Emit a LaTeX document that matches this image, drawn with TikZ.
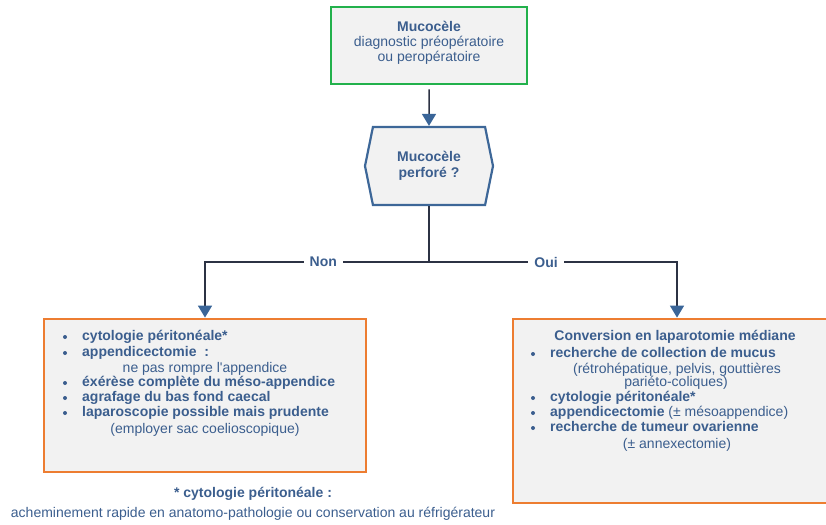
\documentclass[tikz,border=0pt]{standalone}
\usepackage{fontspec}
\setmainfont{Liberation Sans}[Ligatures=TeXOff]
\usetikzlibrary{arrows.meta,shapes.symbols,positioning}
\definecolor{txtblue}{HTML}{3B5E8E}
\definecolor{hexblue}{HTML}{3D6798}
\definecolor{tipblue}{HTML}{3A6598}
\definecolor{linedark}{HTML}{2C3244}
\definecolor{boxgreen}{HTML}{22B14C}
\definecolor{boxorange}{HTML}{ED7D31}
\definecolor{panelgray}{HTML}{F2F2F2}
\begin{document}
\begin{tikzpicture}[x=1pt,y=-1pt,
    every node/.style={font=\fontsize{14}{15}\selectfont, text=txtblue},
    panel/.style={draw=#1, line width=2.8pt, fill=panelgray},
    item/.style={anchor=west, inner sep=0pt, text height=10pt, text depth=3pt},
    note/.style={inner sep=0pt, text height=10pt, text depth=3pt},
    dot/.style={circle, fill=txtblue, inner sep=0pt, minimum size=4pt},
    link/.style={draw=linedark, line width=1.5pt},
    tip/.style={-{Triangle[width=14pt,length=12pt,color=tipblue]}},
    answer/.style={fill=white, inner xsep=6pt, font=\fontsize{14}{15}\selectfont\bfseries}]
  \useasboundingbox (0,0) rectangle (826,524);
  \clip (0,0) rectangle (826,524);

  % question boxes
  \node[panel=boxgreen, minimum width=196pt, minimum height=77pt] (diag) at (429,45.5) {};
  \node[inner sep=0pt, align=center] (diagtxt) at (429,43) {\textbf{Mucocèle}\\diagnostic préopératoire\\ou peropératoire};
  \node[draw=hexblue, line width=2.2pt, fill=panelgray, signal, signal to=west and east,
    signal pointer angle=157, minimum width=128pt, minimum height=78pt, align=center,
    font=\fontsize{14}{16}\selectfont\bfseries]
    (perf) at (429,166) {Mucocèle\\perforé ?};

  % answer boxes
  \node[panel=boxorange, minimum width=322pt, minimum height=153pt] (non) at (205,395.5) {};
  \node[panel=boxorange, minimum width=324pt, minimum height=184pt] (oui) at (675,411) {};

  % non
  \node[dot] (nb1) at (65,337) {};
  \node[item] (n1) at (82,337) {\textbf{cytologie péritonéale*}};
  \node[dot] (nb2) at (65,353) {};
  \node[item] (n2) at (82,353) {\textbf{appendicectomie\ \ :}};
  \node[note] (n2b) at (205,369) {ne pas rompre l'appendice};
  \node[dot] (nb3) at (65,383) {};
  \node[item] (n3) at (82,383) {\textbf{éxérèse complète du méso-appendice}};
  \node[dot] (nb4) at (65,398) {};
  \node[item] (n4) at (82,398) {\textbf{agrafage du bas fond caecal}};
  \node[dot] (nb5) at (65,413) {};
  \node[item] (n5) at (82,413) {\textbf{laparoscopie possible mais prudente}};
  \node[note] (n5b) at (205,430) {(employer sac coelioscopique)};

  % oui
  \node[note] (o0) at (675,337) {\textbf{Conversion en laparotomie médiane}};
  \node[dot] (ob1) at (533,354) {};
  \node[item] (o1) at (550,354) {\textbf{recherche de collection de mucus}};
  \node[note] (o1b) at (677,370) {(rétrohépatique, pelvis, gouttières};
  \node[note] (o1c) at (676,383) {pariéto-coliques)};
  \node[dot] (ob2) at (533,398) {};
  \node[item] (o2) at (550,398) {\textbf{cytologie péritonéale*}};
  \node[dot] (ob3) at (533,413) {};
  \node[item] (o3) at (550,413) {\textbf{appendicectomie} (± mésoappendice)};
  \node[dot] (ob4) at (533,428) {};
  \node[item] (o4) at (550,428) {\textbf{recherche de tumeur ovarienne}};
  \node[note] (o4b) at (677,445) {(± annexectomie)};

  % footnote
  \node[note] (fn1) at (253,494) {\textbf{* cytologie péritonéale :}};
  \node[note] (fn2) at (253,514) {acheminement rapide en anatomo-pathologie ou conservation au réfrigérateur};

  % connectors
  \coordinate (split) at (429,262);
  \begin{scope}[link]
    \draw[tip, shorten <=4pt] (diag) -- (perf);
    \draw (perf) -- (split);
    \draw[tip] (split) -| node[answer, pos=0.236] (lno) {Non} (non.north);
    \draw[tip] (split) -| node[answer, pos=0.236] (lyes) {Oui} (oui.north -| 677,0);
  \end{scope}
\end{tikzpicture}
\end{document}
